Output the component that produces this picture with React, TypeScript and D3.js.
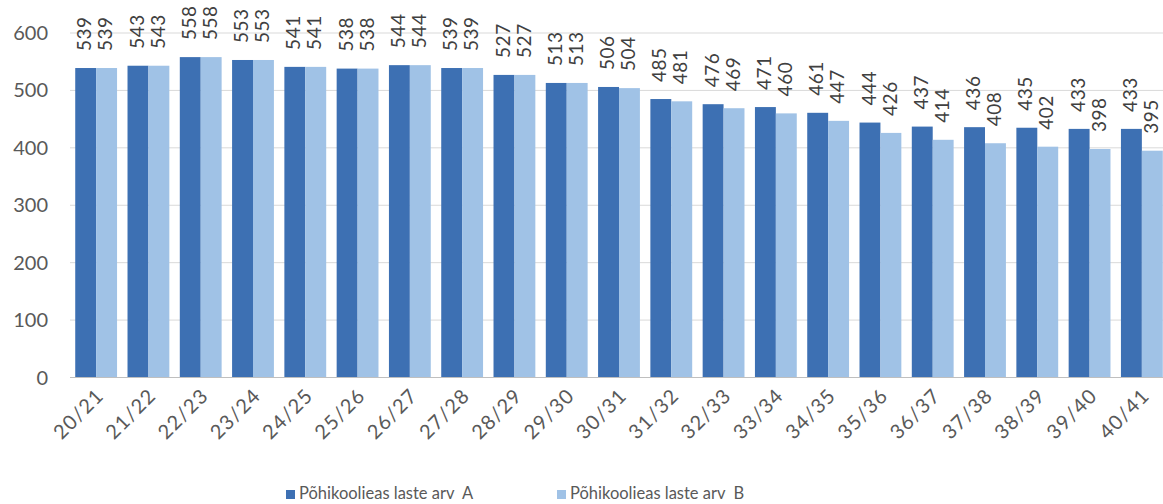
import React from "react";
import * as d3 from "d3";

const categories = ["20/21","21/22","22/23","23/24","24/25","25/26","26/27","27/28","28/29","29/30","30/31","31/32","32/33","33/34","34/35","35/36","36/37","37/38","38/39","39/40","40/41"];
const seriesA = [539,543,558,553,541,538,544,539,527,513,506,485,476,471,461,444,437,436,435,433,433];
const seriesB = [539,543,558,553,541,538,544,539,527,513,504,481,469,460,447,426,414,408,402,398,395];
const yTicks = [0,100,200,300,400,500,600];
const legendLabels = ["Põhikoolieas laste arv\u00a0 A", "Põhikoolieas laste arv\u00a0 B"];

const W = 1163, H = 504;
const colA = "#3d70b3";
const colB = "#a0c2e6";
const font = "Lato, 'Open Sans', sans-serif";

export default function App() {
  const x = d3.scaleBand<string>().domain(categories).range([70, 1168]).paddingInner(0.2).paddingOuter(0.1);
  const y = d3.scaleLinear().domain([0, 600]).range([377.5, 33]);
  const bw = x.bandwidth() / 2;
  const series = [seriesA, seriesB];
  const colors = [colA, colB];
  return (
    <svg width={W} height={H} style={{ position: "absolute", left: 0, top: 0, background: "#fff" }} fontFamily={font}>
      {yTicks.map((t) => (
        <g key={t}>
          {t > 0 && <line x1={70} x2={W} y1={y(t)} y2={y(t)} stroke="#d9d9d9" strokeWidth={1} />}
          <text x={48} y={y(t)} dy="0.35em" textAnchor="end" fontSize={20} fill="#595959">{t}</text>
        </g>
      ))}
      {series.map((s, si) =>
        s.map((v, i) => {
          const bx = (x(categories[i]) as number) + si * bw;
          return (
            <g key={si + "-" + i}>
              <rect x={bx} y={y(v)} width={bw} height={y(0) - y(v)} fill={colors[si]} />
              <text transform={`translate(${bx + bw / 2 - 1},${y(v) - 17}) rotate(-90)`} dy="0.35em" fontSize={19} letterSpacing={0.5} fill="#404040">{v}</text>
            </g>
          );
        })
      )}
      <line x1={70} x2={W} y1={y(0)} y2={y(0)} stroke="#bfbfbf" strokeWidth={1} />
      {categories.map((c) => {
        const cx = (x(c) as number) + x.bandwidth() / 2;
        return (
          <text key={c} transform={`translate(${cx + 9},${397}) rotate(-45)`} textAnchor="end" fontSize={20} letterSpacing={1.2} fill="#595959">{c}</text>
        );
      })}
      {legendLabels.map((l, i) => (
        <g key={l} transform={`translate(${i === 0 ? 286 : 557},0)`}>
          <rect x={0} y={490} width={9} height={9} fill={colors[i]} />
          <text x={13} y={499} fontSize={16.5} fill="#595959" style={{ whiteSpace: "pre" }}>{l}</text>
        </g>
      ))}
    </svg>
  );
}
